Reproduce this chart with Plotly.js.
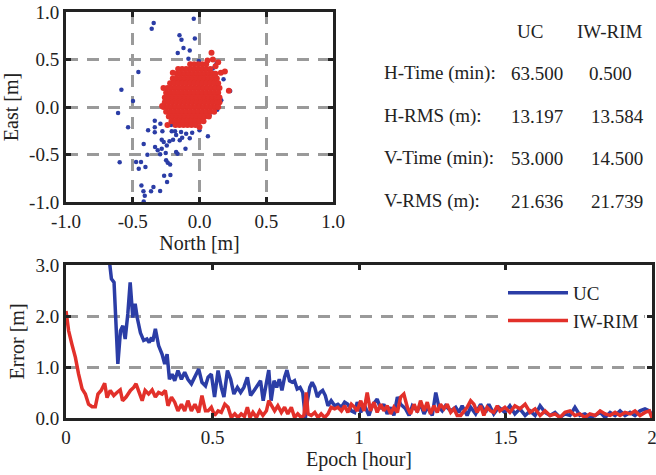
<!DOCTYPE html>
<html>
<head>
<meta charset="utf-8">
<script src="https://cdn.plot.ly/plotly-3.0.1.min.js"></script>
<style>html,body{margin:0;padding:0;background:#fff;}#chart{width:656px;height:475px;}</style>
</head>
<body>
<div id="chart"></div>
<script>
// ---------- Top-left scatter: UC (blue) ----------
const ucNorth = [-0.343,-0.358,-0.043,-0.035,-0.15,-0.135,-0.12,-0.073,-0.163,-0.083,-0.458,-0.585,-0.498,-0.61,-0.535,0.128,0.113,0.18,0.23,0.163,0.063,0,-0.335,-0.335,-0.335,-0.385,-0.293,-0.278,-0.418,-0.39,-0.333,-0.313,-0.283,-0.283,-0.295,-0.253,-0.268,-0.225,-0.208,-0.175,-0.183,-0.245,-0.25,-0.238,-0.22,-0.198,-0.175,-0.165,-0.148,-0.13,-0.105,-0.073,-0.055,-0.1,-0.138,-0.598,-0.475,-0.438,-0.455,-0.405,-0.265,-0.218,-0.243,-0.435,-0.345,-0.363,-0.42,-0.41,-0.295,-0.418,-0.005,0.058,-0.138,-0.213,-0.025,0.025,0.075,0.133,0.12,0.1];
const ucEast  = [0.884,0.825,0.93,0.72,0.754,0.709,0.621,0.596,0.568,0.509,0.368,0.182,0.063,-0.063,-0.214,0.46,0.291,0.291,0.168,0.07,-0.309,-0.246,-0.144,-0.214,-0.267,-0.246,-0.175,-0.256,-0.389,-0.502,-0.421,-0.456,-0.344,-0.439,-0.498,-0.484,-0.368,-0.361,-0.256,-0.295,-0.256,-0.404,-0.561,-0.586,-0.604,-0.344,-0.474,-0.491,-0.351,-0.323,-0.439,-0.33,-0.27,-0.281,-0.263,-0.582,-0.579,-0.579,-0.649,-0.632,-0.723,-0.716,-0.789,-0.825,-0.842,-0.888,-0.888,-0.933,-0.884,-0.996,0.484,0.491,-0.14,-0.189,-0.168,-0.133,-0.088,-0.028,0.21,0.404];

// ---------- Top-left scatter: IW-RIM (red) dense core, row by row ----------
const rimCoreEast = [0.45,0.40,0.35,0.30,0.25,0.20,0.15,0.10,0.05,0.00,-0.05,-0.10,-0.15,-0.19];
const rimCoreNorth = [
  [-0.07,-0.04,-0.01,0.02,0.05],
  [-0.13,-0.10,-0.07,-0.04,-0.01,0.02,0.05,0.08],
  [-0.17,-0.14,-0.11,-0.08,-0.05,-0.02,0.01,0.04,0.07,0.10,0.12],
  [-0.20,-0.17,-0.14,-0.11,-0.08,-0.05,-0.02,0.01,0.04,0.07,0.10,0.13],
  [-0.22,-0.19,-0.16,-0.13,-0.10,-0.07,-0.04,-0.01,0.02,0.05,0.08,0.11,0.14],
  [-0.24,-0.21,-0.18,-0.15,-0.12,-0.09,-0.06,-0.03,0.00,0.03,0.06,0.09,0.12,0.15],
  [-0.25,-0.22,-0.19,-0.16,-0.13,-0.10,-0.07,-0.04,-0.01,0.02,0.05,0.08,0.11,0.14],
  [-0.26,-0.23,-0.20,-0.17,-0.14,-0.11,-0.08,-0.05,-0.02,0.01,0.04,0.07,0.10,0.13,0.15],
  [-0.26,-0.23,-0.20,-0.17,-0.14,-0.11,-0.08,-0.05,-0.02,0.01,0.04,0.07,0.10,0.13,0.15],
  [-0.27,-0.24,-0.21,-0.18,-0.15,-0.12,-0.09,-0.06,-0.03,0.00,0.03,0.06,0.09,0.12,0.14],
  [-0.25,-0.22,-0.19,-0.16,-0.13,-0.10,-0.07,-0.04,-0.01,0.02,0.05,0.08,0.11],
  [-0.23,-0.20,-0.17,-0.14,-0.11,-0.08,-0.05,-0.02,0.01,0.04,0.07],
  [-0.21,-0.18,-0.15,-0.12,-0.09,-0.06,-0.03,0.00,0.03],
  [-0.18,-0.15,-0.12,-0.09,-0.06,-0.03]
];
const rimOutNorth = [0.09,0.19,0.22,-0.27,-0.24,0.0,0.06,0.14,0.16,-0.28,0.10,0.12,-0.20,-0.16];
const rimOutEast  = [0.57,0.375,0.17,0.20,-0.19,-0.21,0.49,0.47,0.36,0.01,0.50,0.43,0.36,0.40];

// ---------- Table ----------
const tableHeader = ["UC", "IW-RIM"];
const tableRows = ["H-Time (min):", "H-RMS (m):", "V-Time (min):", "V-RMS (m):"];
const ucStats  = ["63.500", "13.197", "53.000", "21.636"];
const rimStats = ["0.500", "13.584", "14.500", "21.739"];

// ---------- Bottom: error time series ----------
const ucTime = [0.12,0.145,0.15,0.155,0.164,0.168,0.177,0.186,0.194,0.202,0.211,0.219,0.228,0.236,0.243,0.254,0.265,0.276,0.284,0.292,0.296,0.305,0.316,0.328,0.337,0.345,0.353,0.362,0.371,0.382,0.394,0.405,0.416,0.428,0.44,0.453,0.464,0.476,0.485,0.496,0.507,0.519,0.53,0.539,0.551,0.562,0.573,0.585,0.596,0.607,0.619,0.63,0.642,0.653,0.664,0.673,0.684,0.692,0.7,0.71,0.719,0.728,0.737,0.746,0.754,0.763,0.772,0.78,0.789,0.799,0.808,0.817,0.824,0.832,0.84,0.849,0.858,0.867,0.876,0.885,0.894,0.905,0.917,0.928,0.94,0.951,0.962,0.974,0.985,0.994,1.006,1.017,1.034,1.045,1.062,1.074,1.085,1.096,1.108,1.119,1.131,1.142,1.159,1.171,1.182,1.199,1.21,1.222,1.233,1.25,1.262,1.273,1.284,1.295,1.313,1.33,1.341,1.352,1.369,1.381,1.398,1.415,1.432,1.443,1.46,1.477,1.498,1.515,1.532,1.549,1.567,1.584,1.601,1.618,1.635,1.652,1.669,1.686,1.703,1.72,1.737,1.754,1.771,1.788,1.806,1.823,1.84,1.857,1.874,1.891,1.908,1.925,1.942,1.959,1.976,1.991,2.0];
const ucError = [4.5,3.2,2.95,2.73,2.66,2.1,1.06,1.71,1.81,1.55,2.04,2.66,1.97,2.24,1.97,1.67,1.52,1.55,1.48,1.58,1.50,1.75,1.42,1.25,1.06,1.25,0.76,0.86,0.73,0.93,0.76,0.90,0.76,0.67,0.80,0.96,0.70,0.63,0.80,0.86,0.41,0.93,0.60,0.41,0.93,0.76,0.47,0.60,0.50,0.60,0.80,0.44,0.54,0.63,0.73,0.34,0.67,0.94,0.34,0.73,0.60,0.76,0.54,0.80,0.94,0.73,0.70,0.73,0.57,0.60,0.50,0.0,0.34,0.60,0.70,0.60,0.41,0.50,0.54,0.44,0.24,0.34,0.24,0.27,0.21,0.31,0.27,0.14,0.11,0.31,0.11,0.27,0.05,0.24,0.37,0.18,0.27,0.08,0.21,0.05,0.41,0.27,0.18,0.05,0.24,0.14,0.27,0.08,0.21,0.05,0.50,0.21,0.14,0.24,0.14,0.21,0.11,0.24,0.05,0.21,0.08,0.27,0.11,0.27,0.08,0.21,0.11,0.24,0.08,0.18,0.05,0.14,0.05,0.24,0.11,0.05,0.11,0.01,0.08,0.05,0.21,0.05,0.08,0.01,0.05,0.11,0.01,0.11,0.05,0.14,0.05,0.11,0.05,0.14,0.18,0.14,0.05];
const rimTime = [0,0.009,0.02,0.032,0.043,0.055,0.066,0.077,0.089,0.1,0.109,0.12,0.132,0.14,0.151,0.163,0.174,0.185,0.193,0.205,0.22,0.231,0.239,0.25,0.26,0.27,0.282,0.294,0.305,0.316,0.328,0.339,0.348,0.36,0.371,0.382,0.394,0.405,0.416,0.428,0.44,0.453,0.464,0.476,0.485,0.496,0.507,0.519,0.53,0.542,0.553,0.564,0.576,0.587,0.598,0.609,0.619,0.628,0.638,0.65,0.661,0.672,0.684,0.692,0.703,0.712,0.723,0.735,0.746,0.757,0.769,0.78,0.791,0.803,0.812,0.82,0.826,0.837,0.849,0.86,0.871,0.883,0.894,0.905,0.917,0.928,0.94,0.951,0.962,0.974,0.985,0.994,1.006,1.017,1.028,1.039,1.051,1.062,1.074,1.085,1.096,1.108,1.119,1.131,1.142,1.153,1.165,1.176,1.188,1.199,1.21,1.222,1.233,1.244,1.256,1.267,1.278,1.29,1.301,1.313,1.324,1.335,1.347,1.358,1.369,1.381,1.392,1.403,1.415,1.426,1.437,1.449,1.46,1.472,1.481,1.498,1.515,1.532,1.549,1.567,1.584,1.601,1.618,1.635,1.652,1.669,1.686,1.703,1.72,1.737,1.754,1.771,1.788,1.806,1.823,1.84,1.857,1.874,1.891,1.908,1.925,1.942,1.959,1.976,1.991,2.0];
const rimError = [2.1,1.71,1.45,1.19,0.86,0.57,0.47,0.27,0.22,0.22,0.47,0.54,0.68,0.40,0.54,0.44,0.50,0.55,0.34,0.41,0.54,0.60,0.67,0.50,0.34,0.54,0.47,0.55,0.41,0.50,0.47,0.54,0.24,0.41,0.31,0.14,0.27,0.14,0.34,0.14,0.27,0.11,0.44,0.14,0.14,0.21,0.05,0.14,0.11,0.27,0.21,0.01,0.08,0.01,0.08,0.03,0.21,0.01,0.11,0.01,0.14,0.05,0.14,0.34,0.21,0.14,0.24,0.11,0.21,0.08,0.21,0.01,0.08,0.01,0.05,0.50,0.08,0.05,0.11,0.01,0.08,0.01,0.08,0.21,0.18,0.21,0.14,0.24,0.11,0.27,0.21,0.14,0.34,0.14,0.50,0.14,0.31,0.11,0.27,0.14,0.24,0.08,0.21,0.11,0.41,0.47,0.21,0.08,0.27,0.11,0.34,0.14,0.31,0.08,0.24,0.11,0.27,0.18,0.27,0.11,0.18,0.05,0.05,0.14,0.21,0.34,0.27,0.11,0.24,0.05,0.21,0.14,0.11,0.24,0.14,0.21,0.11,0.24,0.18,0.27,0.11,0.18,0.05,0.14,0.05,0.08,0.01,0.11,0.14,0.05,0.08,0.01,0.08,0.05,0.14,0.08,0.05,0.11,0.05,0.11,0.08,0.14,0.05,0.11,0.14,0.0];

const topTickVals = [-1, -0.5, 0, 0.5, 1];
const topTickText = ["-1.0", "-0.5", "0.0", "0.5", "1.0"];
const bottomTickVals = [0, 0.5, 1, 1.5, 2];

// ---------- build ----------
const BLUE = "#2b3da6", RED = "#e2302a";
const FONT = "Liberation Serif, Times New Roman, serif";

const rimNorth = [], rimEast = [];
rimCoreEast.forEach((e, i) => rimCoreNorth[i].forEach(n => { rimNorth.push(n); rimEast.push(e); }));
rimOutNorth.forEach((n, i) => { rimNorth.push(n); rimEast.push(rimOutEast[i]); });

const M = {l: 66, r: 4, t: 12, b: 57}, W = 656, H = 475;
const PW = W - M.l - M.r, PH = H - M.t - M.b;
const px = x => (x - M.l) / PW;
const py = y => (H - M.b - y) / PH;

const traces = [
  {x: ucNorth, y: ucEast, type: "scatter", mode: "markers", xaxis: "x", yaxis: "y",
   marker: {color: BLUE, size: 4.5}, showlegend: false, hoverinfo: "skip"},
  {x: rimNorth, y: rimEast, type: "scatter", mode: "markers", xaxis: "x", yaxis: "y",
   marker: {color: RED, size: 6}, showlegend: false, hoverinfo: "skip"},
  {x: ucTime, y: ucError, type: "scatter", mode: "lines", name: "UC", xaxis: "x2", yaxis: "y2",
   line: {color: BLUE, width: 3.5}},
  {x: rimTime, y: rimError, type: "scatter", mode: "lines", name: "IW-RIM", xaxis: "x2", yaxis: "y2",
   line: {color: RED, width: 3.5}}
];

const frame = {showline: true, linecolor: "#222", linewidth: 3, mirror: "ticks", ticks: "inside",
  ticklen: 5, tickwidth: 3, tickcolor: "#222", zeroline: false, ticklabeloverflow: "allow",
  tickfont: {family: FONT, size: 19, color: "#222"}};
const grid = {showgrid: true, gridcolor: "#9a9a9a", gridwidth: 3, griddash: "12px,9px"};

const annotations = [];
const colUC = [530, 537], colRIM = [610, 617];
const rowY = [73, 116, 158, 201];
annotations.push({x: px(colUC[0]), y: py(31), text: tableHeader[0]});
annotations.push({x: px(colRIM[0]), y: py(31), text: tableHeader[1]});
tableRows.forEach((r, i) => {
  annotations.push({x: px(382), y: py(rowY[i]), text: r, xanchor: "left"});
  annotations.push({x: px(colUC[1]), y: py(rowY[i]), text: ucStats[i]});
  annotations.push({x: px(i === 0 ? colRIM[0] : colRIM[1]), y: py(rowY[i]), text: rimStats[i]});
});
annotations.forEach(a => Object.assign(a, {xref: "paper", yref: "paper", showarrow: false,
  xanchor: a.xanchor || "center", yanchor: "middle", font: {family: FONT, size: 19, color: "#222"}}));

const layout = {
  width: W, height: H, margin: M, paper_bgcolor: "#fff", plot_bgcolor: "#fff",
  font: {family: FONT, color: "#222"},
  xaxis: Object.assign({}, frame, grid, {domain: [0, px(333)], anchor: "y", range: [-1, 1],
    tickvals: topTickVals, ticktext: topTickText,
    title: {text: "North [m]", font: {family: FONT, size: 20, color: "#222"}, standoff: 4}}),
  yaxis: Object.assign({}, frame, grid, {domain: [py(202), 1], anchor: "x", range: [-1, 1],
    tickvals: topTickVals, ticktext: topTickText,
    title: {text: "East [m]", font: {family: FONT, size: 20, color: "#222"}, standoff: 6}}),
  xaxis2: Object.assign({}, frame, {domain: [0, 1], anchor: "y2", range: [0, 2], showgrid: false,
    tickvals: bottomTickVals,
    title: {text: "Epoch [hour]", font: {family: FONT, size: 20, color: "#222"}, standoff: 4}}),
  yaxis2: Object.assign({}, frame, grid, {domain: [0, py(265)], anchor: "x2", range: [0, 3],
    tickvals: [0, 1, 2, 3], tickformat: ".1f",
    title: {text: "Error [m]", font: {family: FONT, size: 20, color: "#222"}, standoff: 6}}),
  showlegend: true,
  legend: {x: px(503), y: py(274), xanchor: "left", yanchor: "top", bgcolor: "#fff",
    borderwidth: 0, font: {family: FONT, size: 19, color: "#222"}, itemwidth: 60, tracegroupgap: 0},
  annotations: annotations
};

Plotly.newPlot("chart", traces, layout, {staticPlot: true});
</script>
</body>
</html>
